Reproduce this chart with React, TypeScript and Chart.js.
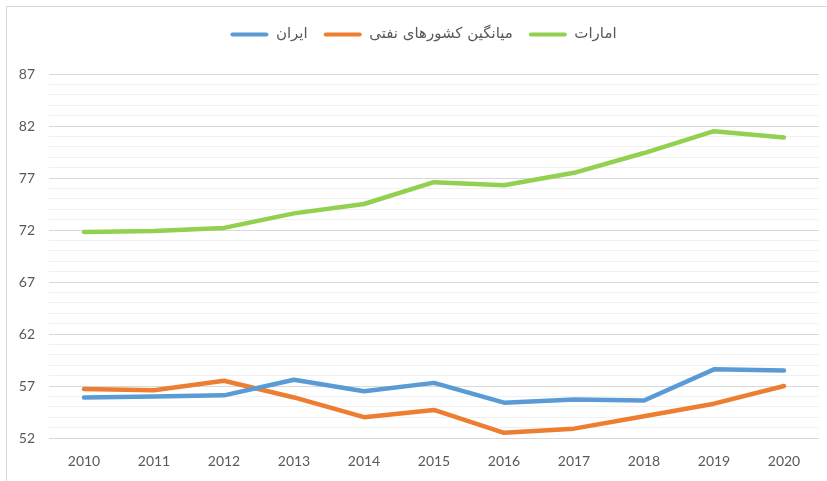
import React, { useEffect, useRef } from "react";
import { Chart, registerables } from "chart.js";

Chart.register(...registerables);

const years = ["2010", "2011", "2012", "2013", "2014", "2015", "2016", "2017", "2018", "2019", "2020"];
const iranValues = [55.9, 56.0, 56.1, 57.6, 56.5, 57.3, 55.4, 55.7, 55.6, 58.6, 58.5];
const oilAvgValues = [56.7, 56.6, 57.5, 55.9, 54.0, 54.7, 52.5, 52.9, 54.1, 55.3, 57.0];
const uaeValues = [71.8, 71.9, 72.2, 73.6, 74.5, 76.6, 76.3, 77.5, 79.4, 81.5, 80.9];
const seriesNames = ["ایران", "میانگین کشورهای نفتی", "امارات"];
const seriesColors = ["#5B9BD5", "#ED7D31", "#92D050"];
const yMin = 52;
const yMax = 87;

const FONT = "Lato, 'DejaVu Sans', sans-serif";
const LEGEND_FONT = "'DejaVu Sans', sans-serif";

export default function App() {
  const ref = useRef<HTMLCanvasElement | null>(null);

  useEffect(() => {
    if (!ref.current) return;
    const all = [iranValues, oilAvgValues, uaeValues];
    const legendPatch = {
      id: "legendPatch",
      beforeLayout(chart: any) {
        const lg = chart.legend;
        if (lg && !lg._patched) {
          const orig = lg.fit;
          lg.fit = function () {
            orig.call(this);
            this.height = 63;
          };
          lg._patched = true;
        }
      },
      afterLayout(chart: any) {
        const lg = chart.legend;
        if (lg) {
          lg.left += 14;
          lg.right += 14;
        }
      },
    };
    const chart = new Chart(ref.current, {
      type: "line",
      data: {
        labels: years,
        datasets: all.map((vals, i) => ({
          label: seriesNames[i],
          data: vals,
          borderColor: seriesColors[i],
          backgroundColor: seriesColors[i],
          borderWidth: 4.5,
          borderCapStyle: "round" as const,
          borderJoinStyle: "round" as const,
          pointRadius: 0,
          tension: 0,
        })),
      },
      options: {
        responsive: false,
        animation: false,
        layout: { padding: { left: 0, right: 8, top: 11, bottom: 0 } },
        plugins: {
          tooltip: { enabled: false },
          legend: {
            position: "top",
            labels: {
              boxWidth: 38,
              boxHeight: 4,
              padding: 16,
              color: "#595959",
              font: { family: LEGEND_FONT, size: 15 },
              useBorderRadius: true,
              borderRadius: 2,
              generateLabels(c: any) {
                const items = Chart.defaults.plugins.legend.labels.generateLabels(c);
                return items.map((it: any) => ({ ...it, lineWidth: 0 }));
              },
            },
          },
        },
        scales: {
          x: {
            type: "category",
            offset: true,
            grid: { display: false, drawTicks: false },
            border: { display: false },
            ticks: { color: "#595959", font: { family: FONT, size: 14 }, padding: 15, maxRotation: 0 },
            afterFit(scale: any) {
              scale.height = 43;
            },
          },
          y: {
            min: yMin,
            max: yMax,
            border: { display: false },
            grid: {
              drawTicks: false,
              color: (ctx: any) => ((ctx.tick.value - yMin) % 5 === 0 ? "#d9d9d9" : "#f0f0f0"),
              lineWidth: 1,
            },
            ticks: {
              stepSize: 1,
              autoSkip: false,
              padding: 14,
              color: "#595959",
              font: { family: FONT, size: 14 },
              callback: (v: any) => ((Number(v) - yMin) % 5 === 0 ? String(v) : ""),
            },
            afterFit(scale: any) {
              scale.width = 49;
            },
          },
        },
      },
      plugins: [legendPatch],
    });
    return () => chart.destroy();
  }, []);

  return (
    <div style={{ position: "absolute", left: 0, top: 0, width: 827, height: 481, overflow: "hidden", background: "#fff" }}>
      <div
        style={{
          position: "absolute",
          left: 6,
          top: 6,
          width: 821,
          height: 475,
          borderLeft: "1px solid #d9d9d9",
          borderTop: "1px solid #d9d9d9",
          boxSizing: "border-box",
        }}
      />
      <canvas ref={ref} width={827} height={481} style={{ position: "absolute", left: 0, top: 0, display: "block" }} />
    </div>
  );
}
